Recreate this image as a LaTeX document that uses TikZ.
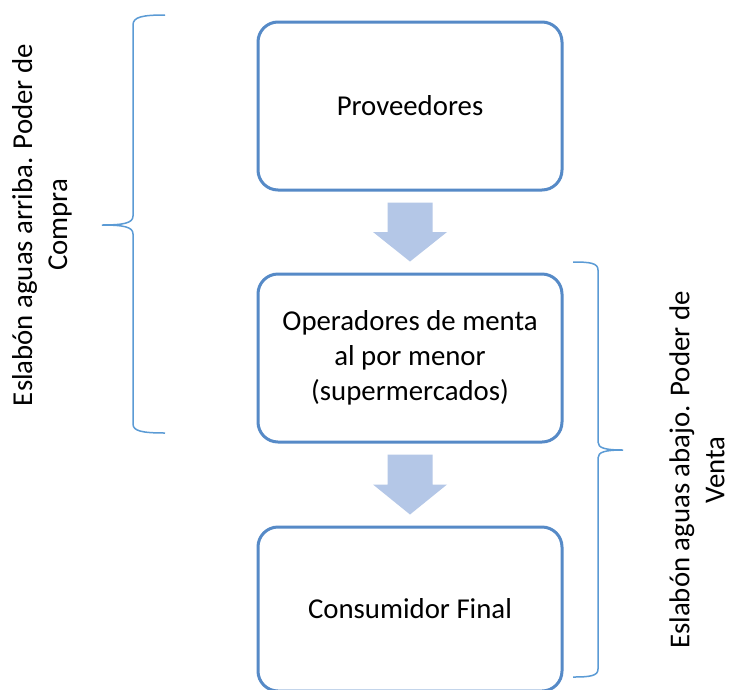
\documentclass[tikz,border=0pt]{standalone}
\usepackage{fontspec}
\setmainfont{Carlito}
\usetikzlibrary{calc}
\definecolor{boxline}{RGB}{86,138,199}
\definecolor{braceline}{RGB}{91,155,213}
\definecolor{arrowfill}{RGB}{180,199,231}
\tikzset{
  box/.style={draw=boxline, line width=3pt, rounded corners=20pt, fill=white,
    minimum width=304pt, inner sep=0pt, align=center,
    font=\fontsize{28.8pt}{35.1pt}\selectfont},
  bracepath/.style={draw=braceline, line width=1.5pt},
  sidelabel/.style={rotate=90, align=center, inner sep=0pt,
    font=\fontsize{28.8pt}{35.1pt}\selectfont},
  flowarrow/.style={fill=arrowfill, draw=none}
}
\newcommand\myblockarrow[2]{%
  \fill[flowarrow] ($(#1.south)+(-22.5,11)$) -- ($(#1.south)+(22.5,11)$)
    -- ($($(#1.south)!0.5!(#2.north)$)+(22.5,0)$)
    -- ($($(#1.south)!0.5!(#2.north)$)+(37,0)$)
    -- ($(#2.north)+(0,-11)$)
    -- ($($(#1.south)!0.5!(#2.north)$)+(-37,0)$)
    -- ($($(#1.south)!0.5!(#2.north)$)+(-22.5,0)$) -- cycle;}
\begin{document}
\begin{tikzpicture}[x=1pt,y=-1pt]
\useasboundingbox (0,0) rectangle (731,689);
\fill[white] (0,0) rectangle (731,689);
% boxes
\node[box, minimum height=168pt] (b1) at (410,106) {Proveedores};
\node[box, minimum height=168pt] (b2) at (410,358) {Operadores de menta\\al por menor\\(supermercados)};
\node[box, minimum height=164pt] (b3) at (410,609) {Consumidor Final};
% block arrows
\myblockarrow{b1}{b2}
\myblockarrow{b2}{b3}
% left brace
\coordinate (lt) at (165,15);
\coordinate (ltip) at (102,225);
\coordinate (lb) at (165,433);
\draw[bracepath] (lt) .. controls (142,15) and (133,17) .. (133,25)
  -- (133,216) .. controls (133,223) and (124,225) .. (ltip)
  .. controls (124,225) and (133,227) .. (133,234)
  -- (133,424) .. controls (133,431) and (142,433) .. (lb);
% right brace
\coordinate (rt) at (573,262);
\coordinate (rtip) at (623,450);
\coordinate (rb) at (573,677);
\draw[bracepath] (rt) .. controls (590,262) and (598,263) .. (598,270)
  -- (598,442) .. controls (598,448) and (605,450) .. (rtip)
  .. controls (605,450) and (598,452) .. (598,458)
  -- (598,669) .. controls (598,676) and (590,677) .. (rb);
% side labels
\begin{scope}
\clip (0,0) rectangle (71,689);
\node[sidelabel] (lup) at (42,225) {Eslabón aguas arriba. Poder de\\Compra};
\end{scope}
\node[sidelabel] (rdown) at (697,470) {Eslabón aguas abajo. Poder de\\Venta};
\end{tikzpicture}
\end{document}
